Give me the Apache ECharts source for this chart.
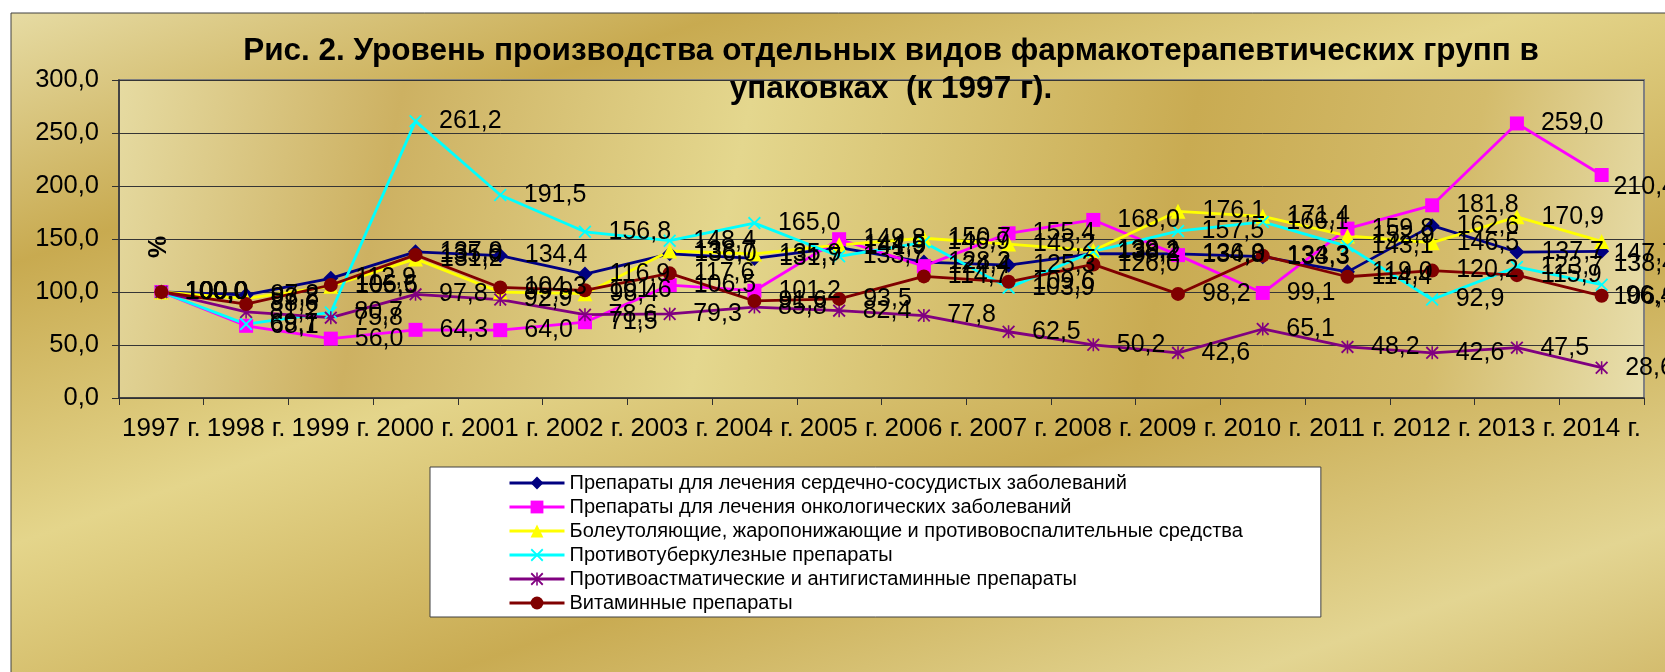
<!DOCTYPE html>
<html style="height: 100%; width:100%">
<head>
    <meta charset="utf-8">
    <script type="text/javascript" src="https://cdn.jsdelivr.net/npm/echarts@6/dist/echarts.min.js"></script>
</head>
<body style="height: 100%; width: 100%; margin: 0; background:#fff;">
<div id="container" style="height: 672px;width:1665px"></div>
<script type="text/javascript">
    // categories
    var years = ['1997 г.', '1998 г.', '1999 г.', '2000 г.', '2001 г.', '2002 г.', '2003 г.', '2004 г.', '2005 г.',
        '2006 г.', '2007 г.', '2008 г.', '2009 г.', '2010 г.', '2011 г.', '2012 г.', '2013 г.', '2014 г.'];

    // series values, % to 1997
    var cardio     = [100.0, 97.2, 112.9, 137.9, 134.4, 116.9, 136.0, 131.7, 141.9, 128.2, 125.3, 136.2, 136.0, 133.3, 119.0, 162.6, 137.7, 138.4];
    var onco       = [100.0, 68.1, 56.0, 64.3, 64.0, 71.5, 106.5, 101.2, 149.8, 124.4, 155.4, 168.0, 134.8, 99.1, 159.8, 181.8, 259.0, 210.4];
    var analgesic  = [100.0, 93.8, 105.5, 131.2, 99.9, 98.4, 138.7, 135.9, 144.5, 150.7, 145.2, 139.1, 176.1, 171.4, 152.9, 146.5, 170.9, 147.7];
    var antiTb     = [100.0, 69.7, 80.7, 261.2, 191.5, 156.8, 148.4, 165.0, 133.7, 146.9, 103.9, 138.2, 157.5, 166.1, 143.1, 92.9, 123.7, 106.9];
    var antiAsthma = [100.0, 81.2, 75.8, 97.8, 92.9, 78.6, 79.3, 85.8, 82.4, 77.8, 62.5, 50.2, 42.6, 65.1, 48.2, 42.6, 47.5, 28.6];
    var vitamins   = [100.0, 88.6, 106.6, 135.0, 104.3, 101.6, 117.6, 91.6, 93.5, 114.7, 109.6, 126.0, 98.2, 134.3, 114.4, 120.2, 115.9, 96.4];

    var seriesNames = [
        'Препараты для лечения сердечно-сосудистых заболеваний',
        'Препараты для лечения онкологических заболеваний',
        'Болеутоляющие, жаропонижающие и противовоспалительные средства',
        'Противотуберкулезные препараты',
        'Противоастматические и антигистаминные препараты',
        'Витаминные препараты'
    ];

    // y axis ticks
    var yMin = 0, yMax = 300, yStep = 50;

    var font = '"Liberation Sans", Arial, sans-serif';
    var crossPath = 'path://M0,1L1,0L5,4L9,0L10,1L6,5L10,9L9,10L5,6L1,10L0,9L4,5Z';
    var starPath = 'path://M0,1L1,0L5,4L9,0L10,1L6,5L10,9L9,10L5,6L1,10L0,9L4,5Z M4.4,0L5.6,0L5.6,10L4.4,10Z';

    function fmt(v) {
        return Number(v).toFixed(1).replace('.', ',');
    }

    function makeSeries(name, data, color, symbol, size) {
        return {
            type: 'line',
            name: name,
            data: data,
            symbol: symbol,
            symbolSize: size,
            showAllSymbol: true,
            lineStyle: {color: color, width: 2.8},
            itemStyle: {color: color, borderWidth: 0},
            label: {
                show: true,
                position: 'right',
                distance: 17,
                color: '#000',
                fontSize: 25,
                fontFamily: font,
                formatter: function (p) { return fmt(p.value); }
            },
            // keep labels inside the chart area like the original
            labelLayout: function (params) {
                var r = params.labelRect;
                var limit = 1676;
                if (r.x + r.width > limit) {
                    return {x: limit - r.width};
                }
                return {};
            },
            emphasis: {disabled: true}
        };
    }

    var bgGradient = {
        type: 'linear', x: 0, y: 0, x2: 462, y2: 1316, global: true,
        colorStops: [
            {offset: 0, color: '#e6dba3'},
            {offset: 0.17, color: '#c8aa50'},
            {offset: 0.36, color: '#e4d58b'},
            {offset: 0.55, color: '#c9ab52'},
            {offset: 0.74, color: '#e3d592'},
            {offset: 0.9, color: '#caad58'},
            {offset: 1, color: '#e0d08a'}
        ]
    };
    var plotGradient = {
        type: 'linear', x: 0, y: 0, x2: 1, y2: 1,
        colorStops: [
            {offset: 0, color: '#e6dba2'},
            {offset: 0.18, color: '#cdb162'},
            {offset: 0.4, color: '#e4d78e'},
            {offset: 0.68, color: '#c9ab52'},
            {offset: 0.86, color: '#d4bc6c'},
            {offset: 1, color: '#e8dfae'}
        ]
    };

    var dom = document.getElementById("container");
    var myChart = echarts.init(dom, null, {renderer: 'canvas'});

    var option = {
        animation: false,
        backgroundColor: '#ffffff',
        title: {
            text: 'Рис. 2. Уровень производства отдельных видов фармакотерапевтических групп в\nупаковках  (к 1997 г).',
            left: 891,
            top: 32,
            textAlign: 'center',
            padding: 0,
            textStyle: {fontSize: 31.5, fontWeight: 'bold', color: '#000', fontFamily: font, lineHeight: 38}
        },
        legend: {
            orient: 'vertical',
            left: 430,
            top: 467,
            padding: [6, 78, 4, 78],
            backgroundColor: '#ffffff',
            borderColor: '#404040',
            borderWidth: 1,
            borderRadius: 0,
            itemWidth: 55,
            itemHeight: 16,
            itemGap: 4,
            selectedMode: false,
            lineStyle: {width: 3},
            textStyle: {fontSize: 20, color: '#000', fontFamily: font, lineHeight: 20},
            data: seriesNames
        },
        grid: {
            left: 119,
            right: 21,
            top: 80,
            bottom: 274,
            show: true,
            backgroundColor: plotGradient,
            borderColor: '#808080',
            borderWidth: 2,
            outerBoundsMode: 'none'
        },
        xAxis: {
            type: 'category',
            data: years,
            boundaryGap: true,
            axisLine: {show: true, lineStyle: {color: '#303030', width: 1.5}},
            axisTick: {show: true, length: 7, interval: 0, lineStyle: {color: '#303030'}},
            axisLabel: {interval: 0, fontSize: 26, color: '#000', fontFamily: font, margin: 18},
            splitLine: {show: false}
        },
        yAxis: {
            type: 'value',
            min: yMin,
            max: yMax,
            interval: yStep,
            axisLine: {show: true, lineStyle: {color: '#303030', width: 1.5}},
            axisTick: {show: true, length: 7, lineStyle: {color: '#303030'}},
            axisLabel: {fontSize: 25.5, color: '#000', fontFamily: font, margin: 20, formatter: fmt},
            splitLine: {show: true, lineStyle: {color: '#353535', width: 1}}
        },
        graphic: {
            elements: [
                {
                    type: 'rect', z: -10, silent: true, x: 11, y: 13,
                    shape: {x: 0, y: 0, width: 1700, height: 700},
                    style: {fill: bgGradient, stroke: '#404040', lineWidth: 1}
                },
                {
                    type: 'text', x: 159, y: 247, rotation: Math.PI / 2, silent: true,
                    style: {text: '%', fontSize: 25, fontWeight: 'bold', fill: '#000', fontFamily: font,
                        align: 'center', verticalAlign: 'middle'}
                }
            ]
        },
        series: [
            makeSeries(seriesNames[0], cardio, '#000080', 'diamond', 15),
            makeSeries(seriesNames[1], onco, '#ff00ff', 'rect', 14),
            makeSeries(seriesNames[2], analgesic, '#ffff00', 'triangle', 15),
            makeSeries(seriesNames[3], antiTb, '#00ffff', crossPath, 13),
            makeSeries(seriesNames[4], antiAsthma, '#800080', starPath, 13),
            makeSeries(seriesNames[5], vitamins, '#800000', 'circle', 14)
        ]
    };
    myChart.setOption(option, true);
</script>
</body>
</html>
